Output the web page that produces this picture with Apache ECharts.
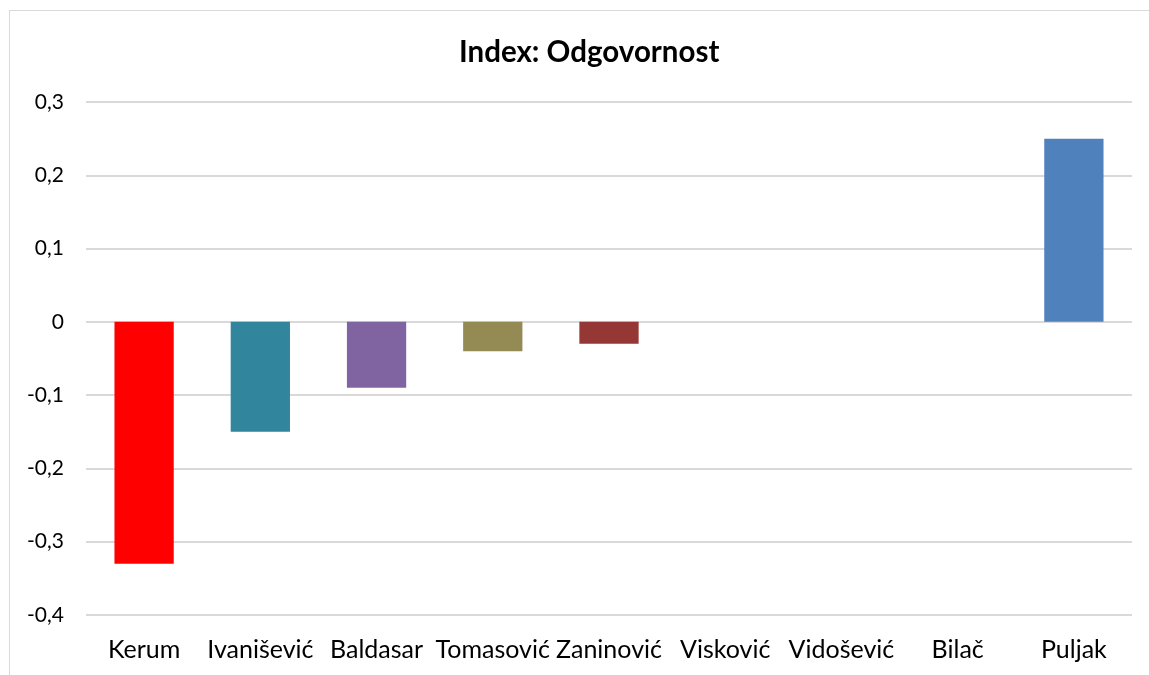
<!DOCTYPE html>
<html>
<head>
<meta charset="utf-8">
<script src="https://cdn.jsdelivr.net/npm/echarts@6/dist/echarts.min.js"></script>
<style>
html,body{margin:0;padding:0;background:#fff;}
#chart{width:1149px;height:675px;}
#frame{position:absolute;left:9px;top:10px;width:1160px;height:680px;border:1px solid #d9d9d9;box-sizing:border-box;}
</style>
</head>
<body>
<div id="frame"></div>
<div id="chart" style="position:absolute;left:0;top:0;"></div>
<script>
var names = ['Kerum','Ivanišević','Baldasar','Tomasović','Zaninović','Visković','Vidošević','Bilač','Puljak'];
var values = [-0.33,-0.15,-0.09,-0.04,-0.03,0,0,0,0.25];
var colors = ['#ff0000','#31859c','#8064a2','#948a54','#953735','#4f81bd','#4f81bd','#4f81bd','#4f81bd'];

var chart = echarts.init(document.getElementById('chart'));
var option = {
    animation:false,
    title:{
        text:'Index: Odgovornost',
        left:454,
        top:32,
        textStyle:{fontFamily:'Lato',fontSize:29.5,fontWeight:'bold',color:'#000'}
    },
    grid:{left:86,right:17,top:102,bottom:60},
    xAxis:{
        type:'category',
        data:names,
        axisLine:{show:false},
        axisTick:{show:false},
        axisLabel:{fontFamily:'Lato',fontSize:25,color:'#000',margin:22,interval:0}
    },
    yAxis:{
        type:'value',
        min:-0.4,
        max:0.3,
        interval:0.1,
        axisLine:{show:false},
        axisTick:{show:false},
        splitLine:{lineStyle:{color:'#d9d9d9',width:2}},
        axisLabel:{
            fontFamily:'Lato',fontSize:21,color:'#000',margin:22,
            formatter:function(v){ return (Math.round(v*10)/10).toString().replace('.',','); }
        }
    },
    series:[{
        type:'bar',
        barWidth:'51%',
        data:values.map(function(v,i){ return {value:v,itemStyle:{color:colors[i]}}; })
    }]
};
chart.setOption(option);
</script>
</body>
</html>
